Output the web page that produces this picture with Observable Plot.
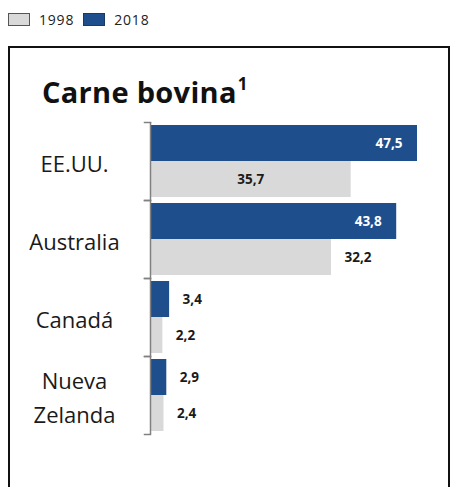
<!DOCTYPE html>
<html>
<head>
<meta charset="utf-8">
<script src="https://cdn.jsdelivr.net/npm/d3@7"></script>
<script src="https://cdn.jsdelivr.net/npm/@observablehq/plot@0.6"></script>
<style>
  html, body { margin: 0; padding: 0; background: #fff; }
  body { width: 451px; height: 487px; position: relative; overflow: hidden; font-family: "Open Sans", Lato, sans-serif; }
  #legend { position: absolute; left: 8px; top: 10px; display: flex; align-items: center; font-size: 14px; letter-spacing: 0.8px; color: #222; }
  #legend .sw { width: 22px; height: 13px; border: 1px solid #555; margin-right: 9px; box-sizing: border-box; }
  #legend .item { display: flex; align-items: center; margin-right: 9px; }
  #box { position: absolute; left: 8px; top: 46px; width: 442px; height: 460px; border: 2px solid #111; box-sizing: border-box; }
  #title { position: absolute; left: 42px; top: 71px; font-size: 29px; line-height: 29px; font-weight: 700; color: #111; margin: 0; letter-spacing: 0.3px; }
  #title sup { font-size: 17px; position: relative; top: -2px; margin-left: 1px; }
  #chart { position: absolute; left: 0; top: 110px; }
</style>
</head>
<body>
<div id="legend"></div>
<div id="box"></div>
<h1 id="title">Carne bovina<sup>1</sup></h1>
<div id="chart"></div>
<script>
// Data
const countries = ["EE.UU.", "Australia", "Canadá", "Nueva\nZelanda"];
const years = ["1998", "2018"];
const values1998 = [35.7, 32.2, 2.2, 2.4];
const values2018 = [47.5, 43.8, 3.4, 2.9];
const colors = ["#d9d9d9", "#1f4e8c"];
// label placement (style)
const place1998 = ["center", "outside", "outside", "outside"];
const place2018 = ["inside", "inside", "outside", "outside"];

// legend
const legend = document.getElementById("legend");
years.forEach((y, i) => {
  const item = document.createElement("div");
  item.className = "item";
  const sw = document.createElement("div");
  sw.className = "sw";
  sw.style.background = colors[i];
  if (i === 1) sw.style.borderColor = "#1a3a66";
  item.appendChild(sw);
  const t = document.createElement("span");
  t.textContent = y;
  item.appendChild(t);
  legend.appendChild(item);
});

const rows = [];
countries.forEach((c, i) => {
  rows.push({country: c, year: "2018", value: values2018[i], place: place2018[i]});
  rows.push({country: c, year: "1998", value: values1998[i], place: place1998[i]});
});
const fmt = v => d3.format(".1f")(v).replace(".", ",");

const width = 451, height = 340, marginLeft = 150, marginRight = 34;
const innerW = width - marginLeft - marginRight;
const axisColor = "#808080";
const labelStyle = {fontSize: 13.5, fontWeight: "bold", fontFamily: "'Open Sans', sans-serif"};

const chart = Plot.plot({
  width, height,
  marginLeft, marginRight, marginTop: 12, marginBottom: 16,
  x: {domain: [0, 47.5], axis: null},
  y: {domain: ["2018", "1998"], axis: null, paddingInner: 0, paddingOuter: 0.08},
  fy: {domain: countries, axis: null, padding: 0},
  color: {domain: years, range: colors},
  marks: [
    Plot.barX(rows, {x: "value", y: "year", fy: "country", fill: "year"}),
    Plot.ruleX([0], {stroke: axisColor, strokeWidth: 1.5}),
    Plot.frame({anchor: "top", stroke: axisColor, strokeWidth: 1.5, insetLeft: -6, insetRight: innerW}),
    Plot.frame({anchor: "bottom", stroke: axisColor, strokeWidth: 1.5, insetLeft: -6, insetRight: innerW}),
    Plot.text(countries, {fy: d => d, text: d => d, frameAnchor: "left", dx: -76, textAnchor: "middle",
      fontSize: 22, lineHeight: 1.55, fill: "#1a1a1a", fontFamily: "'Open Sans', sans-serif"}),
    Plot.text(rows.filter(d => d.place === "inside"), {x: "value", y: "year", fy: "country", text: d => fmt(d.value),
      textAnchor: "end", dx: -15, fill: "white", ...labelStyle}),
    Plot.text(rows.filter(d => d.place === "center"), {x: d => d.value / 2, y: "year", fy: "country", text: d => fmt(d.value),
      textAnchor: "middle", fill: "#1a1a1a", ...labelStyle}),
    Plot.text(rows.filter(d => d.place === "outside"), {x: "value", y: "year", fy: "country", text: d => fmt(d.value),
      textAnchor: "start", dx: 13, fill: "#1a1a1a", ...labelStyle})
  ]
});
document.getElementById("chart").appendChild(chart);
</script>
</body>
</html>
